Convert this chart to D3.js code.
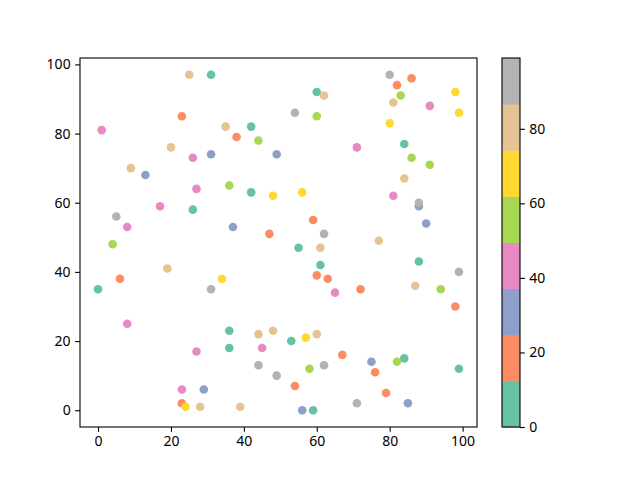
<!DOCTYPE html>
<html>
<head>
<meta charset="utf-8">
<script src="https://cdn.jsdelivr.net/npm/d3@7"></script>
<style>
  body { margin: 0; background: #fff; }
  svg text { font-family: "Noto Sans", sans-serif; font-size: 14px; fill: #000; }
</style>
</head>
<body>
<svg id="chart"></svg>
<script>
// scatter points (colour value picks the Set2 band)
var xs = [25, 31, 23, 1, 20, 26, 31, 9, 13, 27, 60, 62, 54, 60, 35, 42, 38, 44, 49, 36,
  80, 86, 82, 98, 83, 81, 91, 99, 80, 71, 84, 86, 91, 84, 17, 26, 5, 8, 4, 19,
  6, 0, 31, 34, 42, 48, 56, 37, 59, 47, 62, 55, 61, 61, 60, 63, 65, 81, 88, 88,
  90, 77, 88, 99, 72, 87, 94, 98, 8, 27, 23, 29, 23, 24, 28, 36, 44, 48, 53, 57,
  60, 36, 45, 67, 44, 58, 62, 49, 54, 39, 56, 59, 75, 84, 82, 99, 76, 79, 71, 85];
var ys = [97, 97, 85, 81, 76, 73, 74, 70, 68, 64, 92, 91, 86, 85, 82, 82, 79, 78, 74, 65,
  97, 96, 94, 92, 91, 89, 88, 86, 83, 76, 77, 73, 71, 67, 59, 58, 56, 53, 48, 41,
  38, 35, 35, 38, 63, 62, 63, 53, 55, 51, 51, 47, 47, 42, 39, 38, 34, 62, 59, 60,
  54, 49, 43, 40, 35, 36, 35, 30, 25, 17, 6, 6, 2, 1, 1, 23, 22, 23, 20, 21,
  22, 18, 18, 16, 13, 12, 13, 10, 7, 1, 0, 0, 14, 15, 14, 12, 11, 5, 2, 2];
var cs = [81, 4, 17, 44, 80, 43, 30, 82, 32, 42, 6, 83, 93, 56, 79, 7, 18, 55, 31, 57,
  94, 19, 20, 68, 54, 81, 45, 69, 67, 43, 5, 56, 55, 80, 44, 6, 95, 42, 57, 82,
  18, 0, 94, 68, 7, 69, 68, 31, 19, 18, 93, 5, 81, 6, 19, 20, 44, 43, 31, 96,
  32, 80, 5, 94, 18, 81, 55, 19, 43, 42, 44, 31, 17, 68, 82, 6, 80, 81, 7, 69,
  80, 5, 43, 18, 94, 56, 95, 93, 20, 82, 30, 5, 32, 6, 57, 4, 19, 18, 99, 31];
var xTicks = [0, 20, 40, 60, 80, 100];
var yTicks = [0, 20, 40, 60, 80, 100];
var cTicks = [0, 20, 40, 60, 80];

var width = 640,
  height = 480,
  margin = { left: 80, right: 477, top: 58, bottom: 427 },
  bar = { left: 502, right: 520 },
  tick = 4.86;

var svg = d3.select("#chart")
  .attr("width", width)
  .attr("height", height);

// matplotlib style 5% margins around the data
var xExt = d3.extent(xs), yExt = d3.extent(ys), cExt = d3.extent(cs);
var xPad = (xExt[1] - xExt[0]) * 0.05, yPad = (yExt[1] - yExt[0]) * 0.05;

var x = d3.scaleLinear()
  .domain([xExt[0] - xPad, xExt[1] + xPad])
  .range([margin.left, margin.right]);

var y = d3.scaleLinear()
  .domain([yExt[0] - yPad, yExt[1] + yPad])
  .range([margin.bottom, margin.top]);

var color = d3.scaleQuantize()
  .domain(cExt)
  .range(d3.schemeSet2);

svg.selectAll("circle.pt")
    .data(xs.map(function (d, i) { return { x: d, y: ys[i], c: cs[i] }; }))
  .enter().append("circle")
    .attr("class", "pt")
    .attr("cx", function (d) { return x(d.x); })
    .attr("cy", function (d) { return y(d.y); })
    .attr("r", 4.3)
    .style("fill", function (d) { return color(d.c); });

var xAxis = svg.append("g")
  .attr("transform", "translate(0," + margin.bottom + ")")
  .call(d3.axisBottom(x).tickValues(xTicks).tickSize(tick).tickPadding(4.5));

var yAxis = svg.append("g")
  .attr("transform", "translate(" + margin.left + ",0)")
  .call(d3.axisLeft(y).tickValues(yTicks).tickSize(tick).tickPadding(4.5));

svg.append("rect")
  .attr("x", margin.left)
  .attr("y", margin.top)
  .attr("width", margin.right - margin.left)
  .attr("height", margin.bottom - margin.top)
  .style("fill", "none")
  .style("stroke", "#000")
  .style("stroke-width", 1.1);

// colorbar
var cy = d3.scaleLinear()
  .domain(cExt)
  .range([margin.bottom, margin.top]);

var bands = color.range().map(function (c) { return color.invertExtent(c); });

svg.selectAll("rect.band")
    .data(bands)
  .enter().append("rect")
    .attr("class", "band")
    .attr("x", bar.left)
    .attr("width", bar.right - bar.left)
    .attr("y", function (d) { return cy(d[1]); })
    .attr("height", function (d) { return cy(d[0]) - cy(d[1]) + 0.5; })
    .style("fill", function (d) { return color((d[0] + d[1]) / 2); });

svg.append("rect")
  .attr("x", bar.left)
  .attr("y", margin.top)
  .attr("width", bar.right - bar.left)
  .attr("height", margin.bottom - margin.top)
  .style("fill", "none")
  .style("stroke", "#000")
  .style("stroke-width", 1.1);

var cAxis = svg.append("g")
  .attr("transform", "translate(" + bar.right + ",0)")
  .call(d3.axisRight(cy).tickValues(cTicks).tickSize(tick).tickPadding(4.5));

[xAxis, yAxis, cAxis].forEach(function (g) {
  g.select(".domain").remove();
  g.selectAll("line").style("stroke", "#000").style("stroke-width", 1.1);
  g.selectAll("text").style("font-family", "Noto Sans, sans-serif").style("font-size", "14px");
});
</script>
</body>
</html>
